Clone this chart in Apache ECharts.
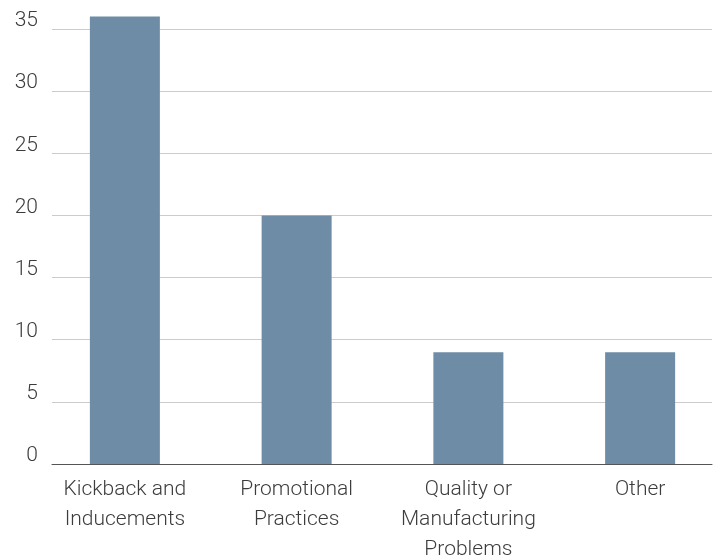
<!DOCTYPE html>
<html>
<head>
<meta charset="utf-8">
<script src="https://cdn.jsdelivr.net/npm/echarts@6/dist/echarts.min.js"></script>
<style>
  html, body { margin: 0; padding: 0; background: #fff; }
  #bar { width: 717px; height: 557px; }
</style>
</head>
<body>
<div id="bar"></div>
<script>
// categories and counts
let categories = ['Kickback and\nInducements', 'Promotional\nPractices', 'Quality or\nManufacturing\nProblems', 'Other']
let counts = [36, 20, 9, 9]
let yTicks = [0, 5, 10, 15, 20, 25, 30, 35]

let chart = echarts.init(document.querySelector('#bar'))
let font = 'Roboto, "Liberation Sans", sans-serif'

let option = {
    backgroundColor: '#ffffff',
    animation: false,
    grid: [
        // grid for gridlines, y labels and baseline
        { left: 52, right: 5, top: 29, bottom: 93, outerBoundsMode: 'none' },
        // grid for the bars (bars are spaced a bit wider than the gridlines)
        { left: 39, right: -9, top: 29, bottom: 93, outerBoundsMode: 'none' }
    ],
    xAxis: [
        {
            gridIndex: 0,
            type: 'value',
            min: 0,
            max: 1,
            axisLine: { show: true, lineStyle: { color: '#555', width: 1 } },
            axisTick: { show: false },
            axisLabel: { show: false },
            splitLine: { show: false }
        },
        {
            gridIndex: 1,
            type: 'category',
            data: categories,
            axisLine: { show: false },
            axisTick: { show: false },
            axisLabel: {
                interval: 0,
                margin: 11,
                fontFamily: font,
                fontWeight: 300,
                fontSize: 21,
                lineHeight: 30,
                color: '#3c3c3c'
            }
        }
    ],
    yAxis: [
        {
            gridIndex: 0,
            type: 'value',
            min: yTicks[0],
            max: yTicks[yTicks.length - 1],
            interval: 5,
            axisLine: { show: false },
            axisTick: { show: false },
            axisLabel: {
                margin: 14,
                fontFamily: font,
                fontWeight: 300,
                fontSize: 21,
                lineHeight: 16,
                verticalAlign: 'bottom',
                color: '#3c3c3c'
            },
            splitLine: { lineStyle: { color: '#cccccc', width: 1 } }
        },
        {
            gridIndex: 1,
            type: 'value',
            min: yTicks[0],
            max: yTicks[yTicks.length - 1],
            show: false,
            splitLine: { show: false }
        }
    ],
    series: [{
        type: 'bar',
        xAxisIndex: 1,
        yAxisIndex: 1,
        data: counts,
        barWidth: 70,
        clip: false,
        itemStyle: { color: '#6e8ca5' }
    }]
}

chart.setOption(option)
</script>
</body>
</html>
